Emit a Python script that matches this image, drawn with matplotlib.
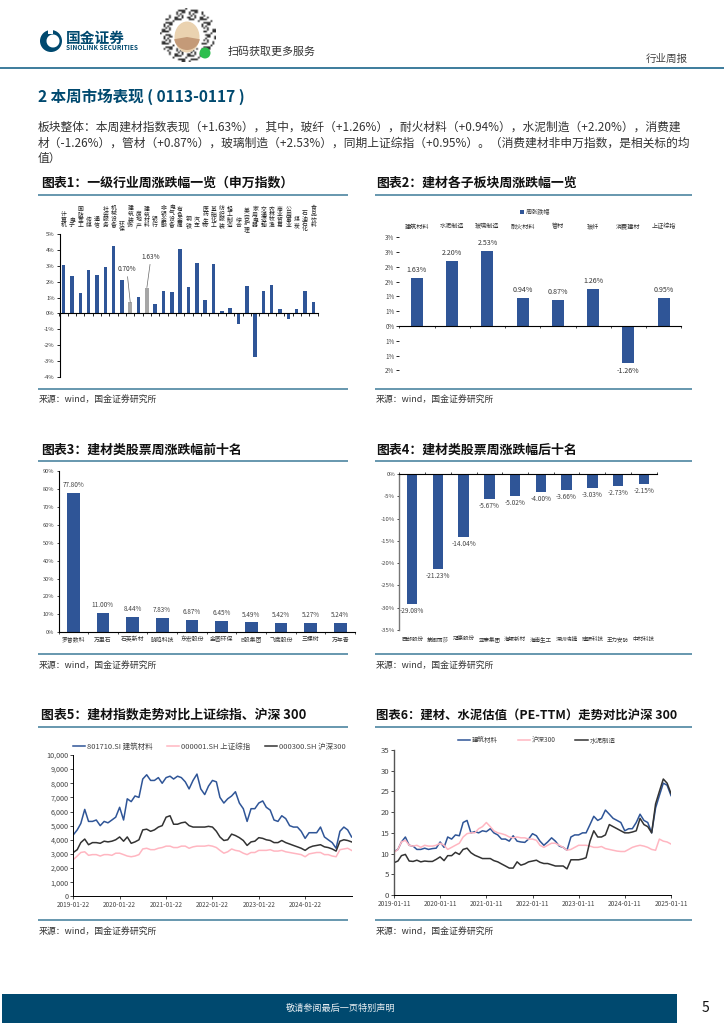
import numpy as np
import pandas as pd
import matplotlib
matplotlib.use("Agg")
import matplotlib.pyplot as plt
from matplotlib.patches import Rectangle, Circle, Ellipse, Wedge
from matplotlib.ticker import FuncFormatter

plt.rcParams['font.family'] = ['Noto Sans CJK SC', 'DejaVu Sans']
plt.rcParams['axes.unicode_minus'] = False

# ---------- data ----------
c1_names = ['计算机','电子','国防军工','传媒','通信','社会服务','机械设备','环保','建筑装饰','房地产','建筑材料',
            '银行','非银金融','电气设备','有色金属','钢铁','汽车','医药生物','基础化工','纺织服装','轻工制造','综合',
            '美容护理','家用电器','交通运输','农林牧渔','商业贸易','公用事业','煤炭','石油石化','食品饮料']
c1_vals = [3.05,2.33,1.28,2.75,2.40,2.92,4.27,2.13,0.70,1.05,1.63,0.62,1.42,1.38,4.05,1.65,3.18,0.82,3.12,
           0.15,0.33,-0.65,1.72,-2.75,1.40,1.78,0.25,-0.35,0.30,1.43,0.70]
c1_low_labels = ['环保','美容护理','石油石化']
c1_highlight = ['建筑装饰','建筑材料']

c2_names = ['建筑材料','水泥制造','玻璃制造','耐火材料','管材','玻纤','消费建材','上证综指']
c2_vals = [1.63,2.20,2.53,0.94,0.87,1.26,-1.26,0.95]
c2_ylabels = ['3%','3%','2%','2%','1%','1%','0%','1%','1%','2%']

c3_names = ['罗普数科','万里石','石英新材','晓鸣科技','东宏股份','金圆环保','B股集团','飞鹿股份','三棵树','万年青']
c3_vals = [77.80,11.00,8.44,7.83,6.87,6.45,5.49,5.42,5.27,5.24]

c4_names = ['西部股份','蒙娜丽莎','冠豪股份','亚泰集团','海螺新材','海南生工','深圳瑞捷','建研科技','王力安防','中材科技']
c4_vals = [-29.08,-21.23,-14.04,-5.67,-5.02,-4.00,-3.66,-3.03,-2.73,-2.15]

c5_building = [4.35,4.7,5.15,6.15,5.3,5.3,5.4,5.0,5.3,5.2,5.4,5.6,
               6.3,5.4,6.9,6.7,7.1,7.0,8.3,8.6,8.2,8.2,8.4,8.0,
               8.4,8.5,8.3,8.5,8.4,8.1,7.6,8.2,8.65,7.6,7.2,7.8,
               8.2,8.1,7.0,6.6,6.9,7.1,7.4,6.6,6.2,5.3,6.2,6.2,
               6.6,6.75,6.3,6.1,5.4,5.3,5.7,5.5,5.0,4.9,4.9,4.6,
               4.1,4.5,4.5,4.5,4.9,4.2,4.0,3.8,3.4,4.6,4.9,4.7,4.2]
c5_sse = [2.6,2.85,3.1,3.15,2.9,2.95,2.95,2.85,2.95,2.95,2.9,3.05,
          3.05,2.95,2.85,2.8,2.85,2.95,3.35,3.4,3.3,3.3,3.4,3.45,
          3.55,3.55,3.45,3.45,3.55,3.55,3.4,3.5,3.55,3.55,3.55,3.6,
          3.55,3.45,3.25,3.05,3.15,3.35,3.25,3.2,3.05,2.95,3.1,3.1,
          3.25,3.25,3.25,3.3,3.2,3.2,3.25,3.15,3.1,3.05,3.0,2.95,
          2.8,3.0,3.05,3.1,3.1,2.95,2.95,2.85,2.8,3.3,3.35,3.4,3.25]
c5_csi = [3.1,3.3,3.8,4.05,3.65,3.8,3.8,3.75,3.9,3.85,3.9,4.0,
          4.2,3.9,4.2,3.75,3.85,4.0,4.7,4.75,4.6,4.7,4.9,5.0,
          5.6,5.7,5.1,5.1,5.2,5.25,5.0,4.9,4.9,4.9,4.9,4.95,
          4.9,4.6,4.2,3.95,4.0,4.4,4.3,4.15,3.95,3.6,3.85,3.9,
          4.15,4.1,4.0,3.95,3.8,3.8,3.95,3.8,3.7,3.6,3.5,3.4,
          3.25,3.45,3.55,3.6,3.65,3.5,3.45,3.35,3.2,3.9,4.0,3.95,3.85]
c5_ticks = ['2019-01-22','2020-01-22','2021-01-22','2022-01-22','2023-01-22','2024-01-22']
c5_legend = ['801710.SI 建筑材料','000001.SH 上证综指','000300.SH 沪深300']

c6_building = [10.5,11.0,12.8,14.0,12.0,11.8,11.0,11.0,11.3,11.0,11.2,11.3,
               12.8,11.5,14.0,13.5,14.5,14.3,17.5,18.0,15.0,15.3,15.0,15.5,
               15.3,16.0,15.0,14.5,13.5,13.5,13.0,14.3,13.0,12.8,12.7,13.5,
               14.8,14.3,13.0,12.0,12.8,13.8,13.0,11.8,11.5,10.8,14.0,14.5,
               14.5,15.0,15.0,17.0,19.0,18.0,18.5,20.5,19.5,18.5,18.0,17.5,
               15.5,16.0,16.0,17.5,19.5,18.0,17.5,15.0,21.0,24.0,27.0,26.5,24.0]
c6_csi = [10.3,11.0,12.8,13.2,12.0,11.8,12.0,11.5,12.0,11.8,11.8,12.0,
          12.5,12.0,11.0,11.5,12.0,12.5,14.0,14.8,15.0,15.0,16.0,16.5,
          17.5,16.5,15.5,15.0,14.8,14.5,14.0,13.8,14.0,13.8,13.8,13.5,
          13.5,13.2,12.0,11.5,12.0,12.5,12.5,12.0,11.5,10.8,11.0,11.5,
          12.0,12.0,12.0,11.8,11.5,11.5,11.7,11.2,11.0,10.8,10.6,10.5,
          10.5,11.0,11.5,11.8,12.0,11.8,11.5,11.0,10.8,13.5,13.0,12.8,12.3]
c6_cement = [7.8,8.2,9.5,9.8,8.2,8.1,8.4,8.0,8.2,8.1,8.1,8.6,
             9.2,8.3,9.5,9.5,10.3,9.8,11.0,11.3,10.2,9.6,9.2,8.8,
             8.8,8.8,8.3,8.0,7.5,7.0,6.5,6.5,8.0,7.2,7.5,8.0,
             8.2,8.4,7.9,7.6,7.6,7.3,7.0,7.0,7.0,6.3,8.5,8.5,
             8.5,8.7,9.0,13.0,15.5,14.0,14.0,14.5,17.0,16.5,16.0,15.5,
             15.0,15.0,15.2,15.5,18.5,17.0,16.5,15.0,22.0,25.0,28.0,27.0,24.5]
c6_ticks = ['2019-01-11','2020-01-11','2021-01-11','2022-01-11','2023-01-11','2024-01-11','2025-01-11']
c6_legend = ['建筑材料','沪深300','水泥制造']

body_lines = ['板块整体：本周建材指数表现（+1.63%），其中，玻纤（+1.26%），耐火材料（+0.94%），水泥制造（+2.20%），消费建',
              '材（-1.26%），管材（+0.87%），玻璃制造（+2.53%），同期上证综指（+0.95%）。（消费建材非申万指数，是相关标的均',
              '值）']
titles = ['图表1：一级行业周涨跌幅一览（申万指数）','图表2：建材各子板块周涨跌幅一览',
          '图表3：建材类股票周涨跌幅前十名','图表4：建材类股票周涨跌幅后十名',
          '图表5：建材指数走势对比上证综指、沪深 300','图表6：建材、水泥估值（PE-TTM）走势对比沪深 300']
title_sizes = [9.3, 9.3, 9.3, 9.3, 9.3, 8.9]
source = '来源：wind，国金证券研究所'

# ---------- style ----------
W, H = 724, 1024
NAVY = '#00496F'
RULE = '#5B8FA8'
BAR = '#2F5597'
GREY = '#A6A6A6'
TXT = '#333333'

fig = plt.figure(figsize=(W/100, H/100), dpi=100, facecolor='white')
pg = fig.add_axes([0, 0, 1, 1], zorder=0)
pg.set_xlim(0, W); pg.set_ylim(H, 0); pg.axis('off')

def box(x0, y0, x1, y1):
    a = fig.add_axes([x0/W, 1-y1/H, (x1-x0)/W, (y1-y0)/H], zorder=2)
    a.patch.set_alpha(0)
    return a

# ---------- header ----------
pg.add_patch(Circle((51, 41), 11, fc=NAVY, ec='none'))
pg.add_patch(Wedge((53, 41), 6.5, 0, 360, fc='white', ec='none'))
pg.add_patch(Rectangle((48, 29), 5, 5, fc='white', ec='none'))
pg.text(66, 37.5, '国金证券', fontsize=10.6, fontweight='bold', color=NAVY, va='center', ha='left')
pg.text(66, 48, 'SINOLINK SECURITIES', fontsize=4.7, fontweight='bold', color=NAVY, va='center', ha='left')

n = 31
ii, jj = np.meshgrid(np.arange(n), np.arange(n))
rad = np.hypot(ii-15, jj-15)
code = (((ii*ii*3 + jj*jj*5 + ii*jj) % 7) < 2) & (rad < 15.5) & (rad > 9)
pg.imshow(np.where(code, 0.2, 1.0), cmap='gray', vmin=0, vmax=1, extent=(160, 216, 62, 8),
          interpolation='bilinear', aspect='auto', zorder=1)
pg.add_patch(Ellipse((187, 37), 25, 31, fc='#EAD2B0', ec='none', zorder=2))
pg.add_patch(Wedge((187, 37), 13, 10, 170, fc='#C49A78', ec='none', zorder=2))
pg.add_patch(Circle((205, 53), 5.5, fc='#2DBE4E', ec='none', zorder=3))
pg.set_xlim(0, W); pg.set_ylim(H, 0)
pg.text(228, 52, '扫码获取更多服务', fontsize=7.9, color='#333333', va='center', ha='left')
pg.text(688, 59, '行业周报', fontsize=7.6, color='#444444', va='center', ha='right')
pg.plot([0, W], [68, 68], color='#3C7C9C', lw=1.4, solid_capstyle='butt')

# ---------- heading and body ----------
pg.text(38, 97, '2 本周市场表现 ( 0113-0117 )', fontsize=11.2, fontweight='bold', color=NAVY, va='center', ha='left')
for y, line in zip([127, 143, 158], body_lines):
    pg.text(38, y, line, fontsize=8.46, color=TXT, va='center', ha='left')

# ---------- panel frames ----------
rows = [(183, 194.5, 388.5, 399), (450, 460.5, 653.5, 665), (715, 727, 920, 931)]
cols = [(38, 348), (375, 692)]
title_dx = [3, 1]
k = 0
for ty, r0, r1, sy in rows:
    for (x0, x1), dx in zip(cols, title_dx):
        pg.text(x0+dx, ty, titles[k], fontsize=title_sizes[k], fontweight='bold', color='#111111', va='center', ha='left')
        pg.plot([x0, x1], [r0, r0], color=RULE, lw=1.3, solid_capstyle='butt')
        pg.plot([x0, x1], [r1, r1], color=RULE, lw=1.3, solid_capstyle='butt')
        pg.text(x0+1, sy, source, fontsize=6.4, color='#333333', va='center', ha='left')
        k += 1

# ---------- chart 1 ----------
a = box(59.5, 234, 317.5, 377)
x = np.arange(len(c1_vals))
cols1 = [GREY if nm in c1_highlight else BAR for nm in c1_names]
a.bar(x, c1_vals, width=0.42, color=cols1)
a.set_xlim(-0.5, len(x)-0.5); a.set_ylim(-4, 5)
a.set_yticks(range(-4, 6)); a.set_yticklabels([f'{v}%' for v in range(-4, 6)])
a.set_xticks(np.arange(len(x)+1)-0.5); a.set_xticklabels([])
for s in ['top', 'right']:
    a.spines[s].set_visible(False)
a.spines['bottom'].set_position(('data', 0))
a.spines['left'].set_linewidth(0.8); a.spines['bottom'].set_linewidth(0.8)
a.tick_params(axis='y', labelsize=4.2, length=2, width=0.6, pad=1.5, labelcolor='#333333')
a.tick_params(axis='x', length=2, width=0.6)
for i, nm in enumerate(c1_names):
    bottom = 232 if nm in c1_low_labels else 228
    px = 59.5 + (i+0.5)*(258/31)
    pg.text(px, bottom, '\n'.join(nm), fontsize=4.2, linespacing=1.05, ha='center', va='bottom', color='#222222')
for nm, off in zip(c1_highlight, [(-2.5, 21), (3, 19.2)]):
    i = c1_names.index(nm)
    a.annotate(f'{c1_vals[i]:.2f}%', xy=(i, c1_vals[i]), xytext=off, textcoords='offset points',
               ha='center', va='bottom', fontsize=4.7, color='#333333',
               arrowprops=dict(arrowstyle='-', lw=0.5, color='#666666', shrinkA=0.5, shrinkB=0))

# ---------- chart 2 ----------
a = box(399.3, 237.3, 681.3, 370.3)
x = np.arange(len(c2_vals))
a.bar(x, c2_vals, width=0.34, color=BAR, label='周涨跌幅')
a.set_xlim(-0.5, len(x)-0.5); a.set_ylim(-1.5, 3)
a.set_yticks(np.arange(3, -1.6, -0.5)); a.set_yticklabels(c2_ylabels)
a.xaxis.tick_top()
a.set_xticks(x); a.set_xticklabels(c2_names)
a.set_xticks(np.arange(len(x)+1)-0.5, minor=True)
for s in ['top', 'right', 'left']:
    a.spines[s].set_visible(False)
a.spines['bottom'].set_position(('data', 0))
a.spines['bottom'].set_linewidth(0.8)
a.tick_params(axis='x', which='major', labelsize=4.4, length=0, pad=5, labelcolor='#333333')
a.tick_params(axis='x', which='minor', top=False, bottom=True, length=1.5, width=0.5)
a.tick_params(axis='y', labelsize=4.5, length=2, width=0.6, pad=1.5, labelcolor='#444444')
for xi, v in zip(x, c2_vals):
    a.text(xi, v + (0.14 if v > 0 else -0.14), f'{v:.2f}%', ha='center', va='bottom' if v > 0 else 'top',
           fontsize=5.1, color='#333333')
pg.add_patch(Rectangle((520, 210), 4, 4, fc=BAR, ec='none'))
pg.text(526, 212, '周涨跌幅', fontsize=4.4, color='#444444', va='center', ha='left')

# ---------- chart 3 ----------
a = box(58.5, 471, 355, 632.3)
x = np.arange(len(c3_vals))
a.bar(x, c3_vals, width=0.43, color=BAR)
a.set_xlim(-0.5, len(x)-0.5); a.set_ylim(0, 90)
a.set_yticks(range(0, 91, 10)); a.set_yticklabels([f'{v}%' for v in range(0, 91, 10)])
a.set_xticks(x); a.set_xticklabels(c3_names, va='baseline')
a.set_xticks(np.arange(len(x)+1)-0.5, minor=True)
for s in ['top', 'right']:
    a.spines[s].set_visible(False)
a.spines['left'].set_linewidth(0.8); a.spines['bottom'].set_linewidth(0.8)
a.tick_params(axis='x', which='major', labelsize=4.2, length=0, pad=6.6, labelcolor='#333333')
a.tick_params(axis='x', which='minor', length=1.5, width=0.5)
a.tick_params(axis='y', labelsize=4.1, length=1.5, width=0.5, pad=1.5, labelcolor='#444444')
for xi, v in zip(x, c3_vals):
    a.text(xi, v + 2.2, f'{v:.2f}%', ha='center', va='bottom', fontsize=4.6, color='#444444')

# ---------- chart 4 ----------
a = box(399.3, 474, 656.7, 630)
x = np.arange(len(c4_vals))
a.bar(x, c4_vals, width=0.41, color=BAR)
a.set_xlim(-0.5, len(x)-0.5); a.set_ylim(-35, 0)
a.set_yticks(range(-35, 1, 5)); a.set_yticklabels([f'-{-v}%' if v else '0%' for v in range(-35, 1, 5)])
a.set_xticks(x); a.set_xticklabels(c4_names, va='baseline')
a.set_xticks(np.arange(len(x)+1)-0.5, minor=True)
for s in ['bottom', 'right']:
    a.spines[s].set_visible(False)
a.spines['left'].set_linewidth(1.0); a.spines['left'].set_color('#777777')
a.spines['top'].set_linewidth(0.8)
a.tick_params(axis='x', which='major', labelsize=4.0, length=0, pad=8, labelcolor='#333333')
a.tick_params(axis='x', which='minor', bottom=False, top=True, length=1.5, width=0.5)
a.tick_params(axis='y', labelsize=4.3, length=1.5, width=0.5, pad=1.5, labelcolor='#444444')
for xi, v in zip(x, c4_vals):
    a.text(xi, v - 0.7, f'{v:.2f}%', ha='center', va='top', fontsize=4.7, color='#444444')

# ---------- chart 5 ----------
a = box(73.3, 755, 351.6, 896.3)
d5 = pd.date_range(c5_ticks[0], periods=len(c5_building), freq=pd.DateOffset(months=1))
a.plot(d5, np.array(c5_building)*1000, color=BAR, lw=1.1, label=c5_legend[0])
a.plot(d5, np.array(c5_sse)*1000, color='#FFB6C1', lw=1.1, label=c5_legend[1])
a.plot(d5, np.array(c5_csi)*1000, color='#333333', lw=1.1, label=c5_legend[2])
a.set_xlim(d5[0], pd.Timestamp('2025-01-22')); a.set_ylim(0, 10000)
a.set_yticks(range(0, 10001, 1000))
a.yaxis.set_major_formatter(FuncFormatter(lambda v, p: f'{int(v):,}'))
a.set_xticks(pd.to_datetime(c5_ticks)); a.set_xticklabels(c5_ticks)
for s in ['top', 'right']:
    a.spines[s].set_visible(False)
a.spines['left'].set_linewidth(0.7); a.spines['bottom'].set_linewidth(0.7)
a.tick_params(axis='x', labelsize=4.6, length=2, width=0.5, pad=1.5, labelcolor='#444444')
a.tick_params(axis='y', labelsize=5.2, length=2, width=0.5, pad=1.5, labelcolor='#444444')
leg = a.legend(loc='lower left', bbox_to_anchor=(0.0, 1.028), ncol=3, frameon=False, fontsize=5.4,
               handlelength=1.6, columnspacing=2.0, handletextpad=0.2, borderpad=0, borderaxespad=0)
for t in leg.get_texts():
    t.set_color('#444444')

# ---------- chart 6 ----------
a = box(394, 750, 671, 895)
d6 = pd.date_range(c6_ticks[0], periods=len(c6_building), freq=pd.DateOffset(months=1))
a.plot(d6, c6_building, color=BAR, lw=1.1, label=c6_legend[0])
a.plot(d6, c6_csi, color='#FFB6C1', lw=1.1, label=c6_legend[1])
a.plot(d6, c6_cement, color='#333333', lw=1.1, label=c6_legend[2])
a.set_xlim(d6[0], d6[-1]); a.set_ylim(0, 35)
a.set_yticks(range(0, 36, 5))
a.set_xticks(pd.to_datetime(c6_ticks)); a.set_xticklabels(c6_ticks)
for s in ['top', 'right']:
    a.spines[s].set_visible(False)
a.spines['left'].set_linewidth(1.0); a.spines['left'].set_color('#555555')
a.spines['bottom'].set_linewidth(0.7)
a.tick_params(axis='x', labelsize=4.7, length=2, width=0.5, pad=1.5, labelcolor='#444444')
a.tick_params(axis='y', labelsize=5.6, length=2, width=0.5, pad=1.5, labelcolor='#444444')
leg = a.legend(loc='lower left', bbox_to_anchor=(0.23, 1.038), ncol=3, frameon=False, fontsize=4.7,
               handlelength=1.9, columnspacing=3.0, handletextpad=0.3, borderpad=0, borderaxespad=0)
for t in leg.get_texts():
    t.set_color('#444444')

# ---------- footer ----------
pg.add_patch(Rectangle((2, 994), 675, 29, fc=NAVY, ec='none'))
pg.text(340, 1008.5, '敬请参阅最后一页特别声明', fontsize=6.6, color='#E8EEF2', va='center', ha='center')
pg.text(705, 1008, '5', fontsize=10, color='#111111', va='center', ha='center')

fig.savefig('out.png', dpi=100, facecolor='white')
